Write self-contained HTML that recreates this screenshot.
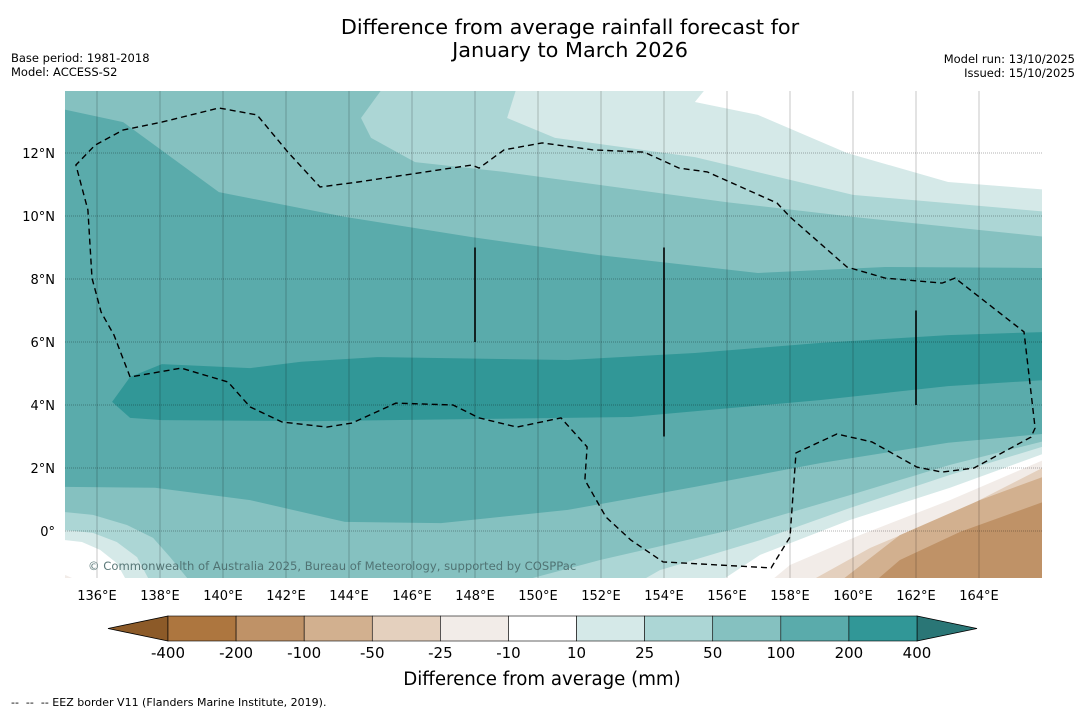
<!DOCTYPE html>
<html><head><meta charset="utf-8">
<style>
body{margin:0;background:#fff;font-family:"Liberation Sans","DejaVu Sans",sans-serif;}
#wrap{position:relative;width:1085px;height:713px;overflow:hidden;background:#fff;}
svg{position:absolute;left:0;top:0;}
text{font-family:"DejaVu Sans","Liberation Sans",sans-serif;}
</style></head>
<body>
<div id="wrap">
<svg id="svg" width="1085" height="713" viewBox="0 0 1085 713">
<text x="570" y="34" font-size="20.8" text-anchor="middle">Difference from average rainfall forecast for</text>
<text x="570" y="57" font-size="20.8" text-anchor="middle">January to March 2026</text>
<text x="11" y="62" font-size="11.5">Base period: 1981-2018</text>
<text x="11" y="76" font-size="11.5">Model: ACCESS-S2</text>
<text x="1075" y="63" font-size="11.5" text-anchor="end">Model run: 13/10/2025</text>
<text x="1075" y="77" font-size="11.5" text-anchor="end">Issued: 15/10/2025</text>
<defs><clipPath id="mapclip"><rect x="65" y="91" width="977" height="487"/></clipPath></defs>
<g id="map" clip-path="url(#mapclip)"></g>
<g id="axes"></g>
<g id="cbar"></g>
<text x="542" y="685" font-size="18.2" text-anchor="middle">Difference from average (mm)</text>
<text x="11" y="706" font-size="11" xml:space="preserve">--  --  -- EEZ border V11 (Flanders Marine Institute, 2019).</text>
</svg>
</div>
<script>
// contour boundaries [lon, lat]
const top50 = [[135,13.37],[136.83,12.98],[139.87,10.76],[143.87,9.97],[147.9,9.33],[151.94,8.76],[156.98,8.19],[161.02,8.38],[166.2,8.35]];
const top25 = [[145.1,14.1],[144.38,13.11],[144.7,12.48],[146.1,11.71],[148.92,11.4],[155.97,10.44],[160,9.97],[166.2,9.33]];
const top10 = [[149.33,14.1],[149.02,13.11],[150.54,12.48],[154.98,11.87],[160,10.67],[166.2,10.13]];
const topWhite = [[155.37,14.1],[154.98,13.62],[156.98,13.21],[159.81,12.0],[163.02,11.08],[166.2,10.83]];
const band200Upper = [[136.48,4.1],[137.05,4.89],[138.06,5.3],[140.86,5.17],[142.48,5.37],[144.89,5.52],[150.95,5.43],[154.98,5.65],[158.98,5.97],[163.02,6.22],[166.2,6.32]];
const band200Lower = [[137.05,3.59],[138.06,3.52],[142.89,3.49],[152.95,3.62],[158.98,4.16],[163.02,4.6],[166.2,4.8]];
const bot50 = [[135,1.4],[137.84,1.37],[140.86,0.98],[143.87,0.29],[146.92,0.25],[150.95,0.67],[154.98,1.4],[158.98,2.16],[163.02,2.8],[166.2,3.1]];
const bot25L = [[135,0.6],[135.87,0.51],[136.95,0.19],[137.78,-0.22],[138.32,-0.83],[138.95,-1.6]];
const bot25R = [[149.43,-1.6],[151.97,-0.92],[156.1,0.03],[159.9,1.14],[163.08,2.1],[166.2,2.89]];
const bot10R = [[153.24,-1.6],[153.87,-1.24],[157.05,-0.29],[159.9,0.73],[163.08,1.78],[166.2,2.73]];
const botWhiteR = [[155.78,-1.6],[157.05,-0.76],[159.9,0.35],[163.08,1.37],[166.2,2.51]];
const botM10 = [[157.37,-1.6],[158.0,-1.08],[160.22,-0.13],[163.08,0.98],[166.2,2.32]];
const botM25 = [[158.63,-1.6],[160.54,-0.54],[163.4,0.67],[166.2,2.1]];
const botM50 = [[159.59,-1.6],[161.49,-0.13],[164.03,0.98],[166.2,1.78]];
const botM100 = [[160.7,-1.6],[161.49,-0.92],[163.4,-0.03],[166.2,0.98]];
const botL10 = [[135,0.03],[135.87,-0.06],[136.63,-0.35],[137.27,-0.83],[137.68,-1.6]];
const botLWhite = [[135,-0.29],[135.52,-0.35],[136.1,-0.6],[136.63,-1.02],[136.95,-1.6]];
const botLM10 = [[135,-1.4],[135.45,-1.6]];
const eez = [[137.05,4.89],[136.54,6.22],[136.13,6.95],[135.84,8.03],[135.71,10.19],[135.33,11.62],[135.94,12.25],[136.83,12.73],[138.06,12.98],[139.87,13.43],[141.08,13.21],[142.06,12.03],[143.08,10.92],[144.29,11.08],[147.9,11.62],[148.13,11.52],[148.92,12.1],[150.13,12.32],[151.75,12.1],[153.37,12.03],[154.48,11.52],[155.37,11.4],[157.59,10.41],[158.0,9.97],[159.81,8.38],[161.02,8.03],[162.83,7.87],[163.24,8.03],[165.43,6.32],[165.78,3.27],[165.65,2.98],[163.84,2.0],[162.83,1.87],[162.03,2.03],[160.6,2.83],[159.49,3.08],[158.19,2.48],[158.0,-0.19],[157.4,-1.17],[153.97,-0.98],[152.95,-0.29],[152.16,0.44],[151.49,1.62],[151.56,2.67],[150.73,3.59],[149.33,3.3],[148.13,3.59],[147.3,4.0],[145.49,4.06],[144.1,3.43],[143.3,3.3],[141.87,3.46],[140.86,3.94],[140.16,4.73],[138.67,5.17],[137.05,4.89]];
const vLines = [[148,9.0,6.0],[154,9.0,3.0],[162,7.0,4.0]];
const lonTicks = [136,138,140,142,144,146,148,150,152,154,156,158,160,162,164];
const latTicks = [0,2,4,6,8,10,12];
const cbarLabels = ["-400","-200","-100","-50","-25","-10","10","25","50","100","200","400"];
const cbarColors = ["#ad763f","#bf9267","#d2b08f","#e4d0be","#f2ece8","#ffffff","#d5e9e8","#acd6d5","#85c1c0","#5aabab","#319797"];

const NS="http://www.w3.org/2000/svg";
const X = lon => 97 + (lon-136)*31.5;
const Y = lat => 531 - lat*31.5;
const pts = a => a.map(p=>X(p[0]).toFixed(1)+","+Y(p[1]).toFixed(1)).join(" ");
function mk(tag, attrs, parent){const e=document.createElementNS(NS,tag);for(const k in attrs)e.setAttribute(k,attrs[k]);parent.appendChild(e);return e;}
const map=document.getElementById('map');

let e=mk('rect',{x:60,y:85,width:990,height:500,fill:'#5aabab'},map);


function fillPoly(arr, extra, color, name){
  const all = arr.concat(extra);
  const p=mk('polygon',{points:pts(all),fill:color},map);
  
  
}
fillPoly(top50,[[167,14.5],[134,14.5],[134,13.37]],'#85c1c0','band-50-100-north');
fillPoly(top25,[[167,14.5]],'#acd6d5','band-25-50-north');
fillPoly(top10,[[167,14.5]],'#d5e9e8','band-10-25-north');
fillPoly(topWhite,[[167,14.5]],'#ffffff','band-neutral-north');
fillPoly(band200Upper,[[167,6.32],[167,4.8]].concat(band200Lower.slice().reverse()),'#319797','band-200-400');
fillPoly(bot50,[[167,-2],[134,-2],[134,1.4]],'#85c1c0','band-50-100-south');
fillPoly(bot25L,[[134,-2],[134,0.6]],'#acd6d5','band-25-50-southwest');
fillPoly(bot25R,[[167,-2]],'#acd6d5','band-25-50-southeast');
fillPoly(bot10R,[[167,-2]],'#d5e9e8','band-10-25-southeast');
fillPoly(botWhiteR,[[167,-2]],'#ffffff','band-neutral-southeast');
fillPoly(botM10,[[167,-2]],'#f2ece8','band-minus10-25');
fillPoly(botM25,[[167,-2]],'#e4d0be','band-minus25-50');
fillPoly(botM50,[[167,-2]],'#d2b08f','band-minus50-100');
fillPoly(botM100,[[167,-2]],'#bf9267','band-minus100-200');
fillPoly(botL10,[[134,-2],[134,0.03]],'#d5e9e8','band-10-25-southwest');
fillPoly(botLWhite,[[134,-2],[134,-0.29]],'#ffffff','band-neutral-southwest');
fillPoly(botLM10,[[134,-2],[134,-1.4]],'#f2ece8','band-minus10-southwest');

for(const lon of lonTicks){
  const l=mk('line',{x1:X(lon),x2:X(lon),y1:91,y2:578,stroke:'#000','stroke-opacity':0.28,'stroke-width':0.8},map);
  
  
}
for(const lat of latTicks){
  const l=mk('line',{x1:65,x2:1042,y1:Y(lat),y2:Y(lat),stroke:'#000','stroke-opacity':0.4,'stroke-width':0.8,'stroke-dasharray':'1,1'},map);
  
  
}
const ez=mk('polyline',{points:pts(eez),fill:'none',stroke:'#000','stroke-width':1.4,'stroke-dasharray':'6,4'},map);


for(const v of vLines){
  const l=mk('line',{x1:X(v[0]),x2:X(v[0]),y1:Y(v[1]),y2:Y(v[2]),stroke:'#000','stroke-width':1.6},map);
  
  
}
const cp=mk('text',{x:88,y:570,'font-size':11.6,fill:'#4a6a6a','fill-opacity':0.9},map);
cp.textContent='© Commonwealth of Australia 2025, Bureau of Meteorology, supported by COSPPac';



const axes=document.getElementById('axes');
for(const lon of lonTicks){
  const t=mk('text',{x:X(lon),y:600,'font-size':13,'text-anchor':'middle'},axes);
  t.textContent=lon+'°E';
  
  
}
for(const lat of latTicks){
  const t=mk('text',{x:55,y:Y(lat)+5,'font-size':13,'text-anchor':'end'},axes);
  t.textContent=lat===0?'0°':lat+'°N';
  
  
}

const cb=document.getElementById('cbar');
const x0=168,x1=917,cy0=616,cy1=641,w=(x1-x0)/cbarColors.length;
let tl=mk('polygon',{points:`108,628.5 ${x0},${cy0} ${x0},${cy1}`,fill:'#8c5a28',stroke:'#000','stroke-width':0.8},cb);


let tr=mk('polygon',{points:`977,628.5 ${x1},${cy0} ${x1},${cy1}`,fill:'#2a7676',stroke:'#000','stroke-width':0.8},cb);


cbarColors.forEach((c,i)=>{
  const r=mk('rect',{x:x0+i*w,y:cy0,width:w,height:cy1-cy0,fill:c,stroke:'#000','stroke-width':0.6},cb);
  
  
});
cbarLabels.forEach((s,i)=>{
  const t=mk('text',{x:x0+i*w,y:658,'font-size':15,'text-anchor':'middle'},cb);
  t.textContent=s;
  
  
});
</script>
</body></html>
